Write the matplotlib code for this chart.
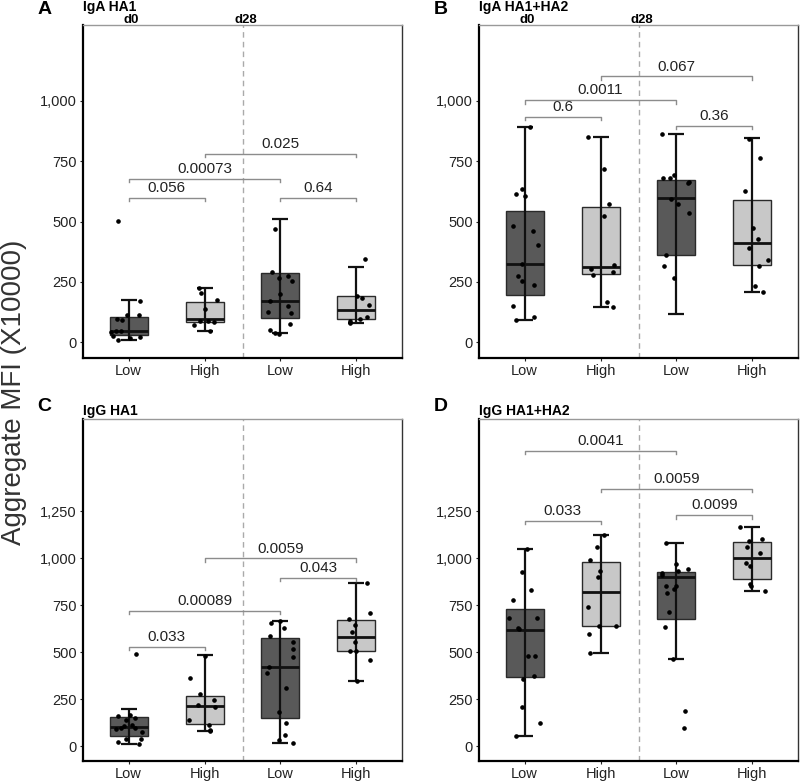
import matplotlib
matplotlib.use('Agg')
import matplotlib.pyplot as plt

plt.rcParams['font.family'] = ['Liberation Sans', 'DejaVu Sans']

groups = ['Low', 'High', 'Low', 'High']
fills = ['#595959', '#c8c8c8', '#595959', '#c8c8c8']

# box stats per group: (whisker low, q1, median, q3, whisker high)
a_stats = [(10, 28, 47, 106, 173), (47, 83, 95, 166, 223),
           (37, 98, 172, 288, 509), (79, 97, 131, 192, 310)]
b_stats = [(90, 194, 325, 545, 892), (145, 282, 311, 560, 849),
           (116, 362, 598, 674, 863), (207, 321, 411, 588, 846)]
c_stats = [(11, 55, 99, 154, 197), (80, 119, 213, 268, 485),
           (18, 151, 423, 574, 668), (346, 506, 579, 671, 866)]
d_stats = [(53, 366, 618, 730, 1048), (494, 639, 818, 978, 1126),
           (462, 677, 902, 929, 1080), (826, 888, 1003, 1085, 1168)]

a_points = [[501, 95, 90, 113, 113, 172, 41, 44, 47, 24, 8, 17, 19],
            [223, 203, 176, 137, 69, 86, 88, 82, 47],
            [469, 289, 275, 264, 252, 200, 169, 151, 123, 120, 76, 51, 37, 33],
            [344, 192, 181, 154, 106, 87, 97, 79]]
a_jitter = [[-0.14, -0.15, -0.09, -0.02, 0.14, 0.15, -0.23, -0.17, -0.10, -0.21, -0.14, 0.02, 0.15],
            [-0.07, -0.05, 0.16, 0.0, -0.14, -0.06, 0.04, 0.13, 0.07],
            [-0.07, -0.11, 0.10, -0.02, 0.15, 0.0, -0.14, 0.10, -0.17, 0.14, 0.13, -0.14, -0.07, -0.02],
            [0.11, 0.01, 0.07, 0.16, 0.14, -0.09, 0.05, -0.08]]

b_points = [[892, 636, 615, 604, 483, 462, 404, 324, 272, 254, 237, 148, 102, 90],
            [849, 719, 573, 524, 318, 304, 279, 289, 166, 145],
            [863, 680, 680, 694, 660, 664, 574, 595, 535, 362, 314, 266],
            [842, 763, 625, 473, 429, 390, 342, 314, 231, 206]]
b_jitter = [[0.07, -0.03, -0.11, 0.01, -0.15, 0.11, 0.18, -0.03, -0.09, -0.04, 0.13, -0.15, 0.13, -0.11],
            [-0.17, 0.05, 0.11, 0.05, 0.18, -0.12, -0.10, 0.17, 0.09, 0.16],
            [-0.19, -0.18, -0.08, -0.03, 0.15, 0.16, 0.02, -0.07, 0.17, -0.14, -0.17, -0.03],
            [-0.05, 0.10, -0.10, 0.01, 0.07, -0.05, 0.20, 0.09, 0.04, 0.14]]

c_points = [[160, 138, 165, 151, 112, 108, 94, 98, 73, 89, 37, 36, 20, 11, 488],
            [364, 275, 247, 217, 206, 138, 110, 85, 80, 481],
            [668, 653, 630, 588, 552, 518, 472, 419, 391, 311, 183, 121, 59, 32, 18],
            [866, 710, 678, 643, 607, 552, 506, 506, 458, 346]]
c_jitter = [[-0.14, -0.04, 0.02, 0.08, 0.05, -0.06, -0.10, 0.09, 0.18, -0.17, -0.04, 0.17, -0.14, 0.14, 0.10],
            [-0.19, -0.06, 0.13, -0.09, 0.14, -0.20, 0.06, 0.07, 0.07, 0.0],
            [-0.01, -0.13, 0.04, -0.14, 0.16, 0.16, 0.16, -0.15, -0.18, 0.07, -0.02, 0.07, 0.06, -0.02, 0.16],
            [0.14, 0.18, -0.10, -0.02, -0.06, -0.02, -0.08, -0.01, 0.18, 0.01]]

d_points = [[1048, 929, 831, 778, 684, 684, 627, 621, 481, 481, 373, 355, 206, 121, 53],
            [1058, 990, 932, 898, 738, 639, 639, 595, 494, 1126],
            [1080, 971, 945, 934, 920, 909, 852, 852, 838, 817, 716, 636, 462, 188, 98],
            [1168, 1094, 1103, 1058, 1028, 973, 959, 861, 852, 826]]
d_jitter = [[0.03, -0.04, 0.09, -0.15, -0.20, 0.16, -0.09, -0.07, 0.04, 0.14, 0.13, -0.02, -0.03, 0.20, -0.11],
            [-0.04, -0.14, -0.01, -0.03, -0.17, -0.02, 0.20, -0.15, -0.14, 0.04],
            [-0.14, 0.0, 0.15, 0.02, -0.19, -0.19, -0.14, -0.01, -0.03, -0.12, -0.10, -0.15, -0.04, 0.11, 0.10],
            [-0.16, -0.05, 0.12, -0.07, 0.10, -0.09, -0.03, -0.03, -0.02, 0.16]]

# p-value brackets: (label, group from, group to, bracket height)
a_pvals = [('0.056', 1, 2, 598), ('0.00073', 1, 3, 678), ('0.64', 3, 4, 598), ('0.025', 2, 4, 780)]
b_pvals = [('0.6', 1, 2, 934), ('0.0011', 1, 3, 1003), ('0.36', 3, 4, 898), ('0.067', 2, 4, 1102)]
c_pvals = [('0.033', 1, 2, 529), ('0.00089', 1, 3, 721), ('0.043', 3, 4, 897), ('0.0059', 2, 4, 1000)]
d_pvals = [('0.033', 1, 2, 1200), ('0.0099', 3, 4, 1230), ('0.0059', 2, 4, 1369), ('0.0041', 1, 3, 1572)]


def draw_panel(ax, stats, points, jitter, pvals, ylim, yticks, letter, title, days):
    pos = [1, 2, 3, 4]
    bxp_stats = []
    for s in stats:
        bxp_stats.append({'whislo': s[0], 'q1': s[1], 'med': s[2], 'q3': s[3],
                          'whishi': s[4], 'fliers': []})
    bp = ax.bxp(bxp_stats, positions=pos, widths=0.5, patch_artist=True,
                showcaps=False, showfliers=False,
                whiskerprops=dict(linewidth=0),
                boxprops=dict(edgecolor='#2a2a2a', linewidth=1.0),
                medianprops=dict(color='#111111', linewidth=2.0, zorder=4))
    for patch, c in zip(bp['boxes'], fills):
        patch.set_facecolor(c)
        patch.set_zorder(2)

    for p, s in zip(pos, stats):
        ax.errorbar([p], [s[2]], yerr=[[s[2] - s[0]], [s[4] - s[2]]], fmt='none',
                    ecolor='#111111', elinewidth=1.6, capsize=5.5, capthick=1.6, zorder=3)

    for p, vals, jit in zip(pos, points, jitter):
        ax.plot([p + j for j in jit], vals, 'o', color='black', ms=2.3, zorder=5)

    ax.axvline(2.5, color='#aaaaaa', linestyle=(0, (4, 3)), linewidth=1.0, zorder=1)

    rng = ylim[1] - ylim[0]
    tip = rng * 0.01
    for label, g1, g2, h in pvals:
        ax.plot([g1, g1, g2, g2], [h - tip, h, h, h - tip], color='#8c8c8c', lw=1.0, zorder=3)
        ax.annotate(label, xy=((g1 + g2) / 2, h), xytext=(0, 2), textcoords='offset points',
                    ha='center', va='bottom', fontsize=11, color='#222222')

    ax.set_xlim(0.4, 4.6)
    ax.set_ylim(*ylim)
    ax.set_xticks(pos)
    ax.set_xticklabels(groups)
    ax.set_yticks(yticks)
    ax.set_yticklabels(['{:,}'.format(v) for v in yticks])
    ax.tick_params(labelsize=10.5, length=2.5, width=0.8, colors='#222222', pad=2)

    for side in ['left', 'bottom']:
        ax.spines[side].set_linewidth(1.6)
        ax.spines[side].set_color('black')
    ax.spines['right'].set_linewidth(1.0)
    ax.spines['right'].set_color('#333333')
    ax.spines['top'].set_linewidth(1.0)
    ax.spines['top'].set_color('#999999')

    h_px = ax.get_position().height * 784
    if days:
        letter_off, title_off = 16, 18
    else:
        letter_off, title_off = 13, 8
    ax.text(-0.12, 1 + letter_off / h_px, letter, transform=ax.transAxes, fontsize=14,
            fontweight='bold', ha='center', va='center')
    ax.text(0.0, 1 + title_off / h_px, title, transform=ax.transAxes, fontsize=10,
            fontweight='bold', ha='left', va='center')
    if days:
        tr = ax.get_xaxis_transform()
        ax.text(1.04, 1 + 5.5 / h_px, 'd0', transform=tr, fontsize=9.5, fontweight='bold',
                ha='center', va='center')
        ax.text(2.55, 1 + 5.5 / h_px, 'd28', transform=tr, fontsize=9.5, fontweight='bold',
                ha='center', va='center')


fig = plt.figure(figsize=(8, 7.84), dpi=100)

ax_a = fig.add_axes([0.10375, 0.5437, 0.39875, 0.4244])
ax_b = fig.add_axes([0.59875, 0.5437, 0.39875, 0.4244])
ax_c = fig.add_axes([0.10375, 0.0293, 0.39875, 0.4362])
ax_d = fig.add_axes([0.59875, 0.0293, 0.39875, 0.4362])

draw_panel(ax_a, a_stats, a_points, a_jitter, a_pvals, (-65, 1315), [0, 250, 500, 750, 1000],
           'A', 'IgA HA1', True)
draw_panel(ax_b, b_stats, b_points, b_jitter, b_pvals, (-65, 1315), [0, 250, 500, 750, 1000],
           'B', 'IgA HA1+HA2', True)
draw_panel(ax_c, c_stats, c_points, c_jitter, c_pvals, (-80, 1742), [0, 250, 500, 750, 1000, 1250],
           'C', 'IgG HA1', False)
draw_panel(ax_d, d_stats, d_points, d_jitter, d_pvals, (-80, 1742), [0, 250, 500, 750, 1000, 1250],
           'D', 'IgG HA1+HA2', False)

fig.text(0.017, 0.5, 'Aggregate MFI (X10000)', rotation=90, ha='center', va='center',
         fontsize=20, color='#333333')

fig.savefig('out.png', dpi=100)
